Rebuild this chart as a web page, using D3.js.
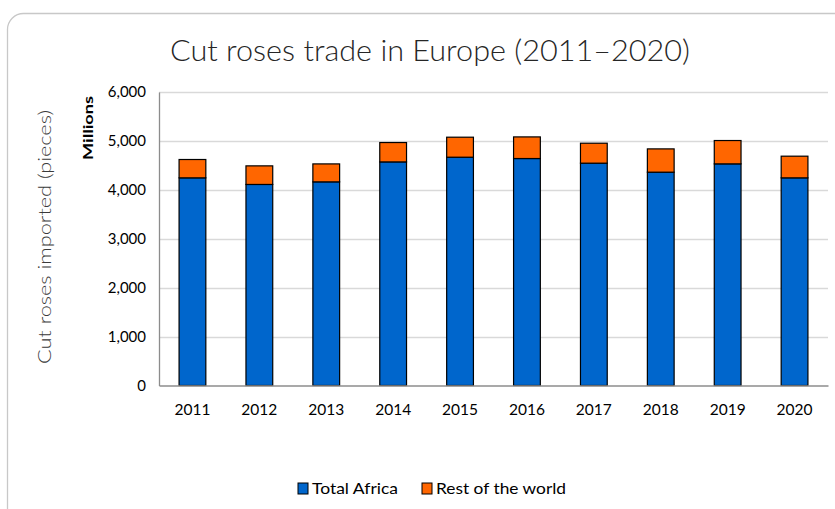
<!DOCTYPE html>
<html>
<head>
<meta charset="utf-8">
<script src="https://cdn.jsdelivr.net/npm/d3@7"></script>
<style>
  html, body { margin: 0; padding: 0; background: #fff; }
  svg text { font-family: Lato, "Open Sans", sans-serif; }
</style>
</head>
<body>
<svg id="chart" width="835" height="509"></svg>
<script>
const years = ["2011","2012","2013","2014","2015","2016","2017","2018","2019","2020"];
const totalAfrica = [4245, 4110, 4163, 4571, 4667, 4640, 4545, 4361, 4531, 4245];
const restOfWorld = [375, 380, 367, 396, 409, 442, 408, 476, 477, 443];
const seriesNames = ["Total Africa", "Rest of the world"];
const seriesColors = ["#0066CC", "#FF6600"];
const yTicks = [0, 1000, 2000, 3000, 4000, 5000, 6000];
const titleText = "Cut roses trade in Europe (2011–2020)";
const yTitle = "Cut roses imported (pieces)";
const unitLabel = "Millions";

const svg = d3.select("#chart");
const m = { left: 159, right: 828, top: 92, bottom: 385.5 };

// frame
svg.append("rect")
  .attr("x", 7.5).attr("y", 13.5)
  .attr("width", 860).attr("height", 520)
  .attr("rx", 16).attr("ry", 16)
  .attr("fill", "#fff").attr("stroke", "#c8c8c8").attr("stroke-width", 1.3);

// title
svg.append("text")
  .attr("x", 430).attr("y", 61)
  .attr("text-anchor", "middle")
  .attr("font-size", 29)
  .attr("font-weight", 300)
  .attr("fill", "#262626")
  .attr("textLength", 520).attr("lengthAdjust", "spacingAndGlyphs")
  .text(titleText);

const x = d3.scaleBand().domain(years).range([m.left, m.right]).paddingInner(0.6).paddingOuter(0.3);
const y = d3.scaleLinear().domain([0, 6000]).range([m.bottom, m.top]);

// gridlines
svg.append("g")
  .selectAll("line").data(yTicks.filter(d => d > 0)).join("line")
  .attr("x1", m.left).attr("x2", m.right)
  .attr("y1", d => Math.round(y(d)) + 0.5).attr("y2", d => Math.round(y(d)) + 0.5)
  .attr("stroke", "#d9d9d9").attr("stroke-width", 1.3);

// y axis
const yAxis = svg.append("g")
  .attr("transform", `translate(${m.left},0)`)
  .call(d3.axisLeft(y).tickValues(yTicks).tickSize(0).tickPadding(13).tickFormat(d3.format(",")));
yAxis.select(".domain").attr("stroke", "#8c8c8c").attr("stroke-width", 1.3);
yAxis.selectAll("text").attr("font-size", 15).attr("fill", "#000")
  .style("font-family", "Lato, sans-serif");

// stacked bars
const stackData = years.map((yr, i) => ({ year: yr, a: totalAfrica[i], r: restOfWorld[i] }));
const stacked = d3.stack().keys(["a", "r"])(stackData);

svg.append("g").selectAll("g").data(stacked).join("g")
  .attr("fill", (d, i) => seriesColors[i])
  .selectAll("rect").data(d => d).join("rect")
  .attr("x", d => x(d.data.year))
  .attr("width", x.bandwidth())
  .attr("y", d => y(d[1]))
  .attr("height", d => y(d[0]) - y(d[1]))
  .attr("stroke", "#000").attr("stroke-width", 1.2);

// x axis
const xAxis = svg.append("g")
  .attr("transform", `translate(0,${m.bottom})`)
  .call(d3.axisBottom(x).tickSize(0).tickPadding(18));
xAxis.select(".domain").attr("stroke", "#8c8c8c").attr("stroke-width", 1.3);
xAxis.selectAll("text").attr("font-size", 15.5).attr("fill", "#000")
  .style("font-family", "Lato, sans-serif");

// y title
svg.append("text")
  .attr("transform", "translate(51,237) rotate(-90)")
  .attr("text-anchor", "middle")
  .attr("font-size", 18)
  .attr("font-weight", 300)
  .attr("fill", "#3a3a3a")
  .attr("textLength", 254).attr("lengthAdjust", "spacingAndGlyphs")
  .text(yTitle);

// Millions
svg.append("text")
  .attr("transform", "translate(93,128) rotate(-90)")
  .attr("text-anchor", "middle")
  .attr("font-size", 14)
  .attr("font-weight", 700)
  .attr("fill", "#000")
  .attr("textLength", 64).attr("lengthAdjust", "spacingAndGlyphs")
  .text(unitLabel);

// legend
const legendItems = [
  { name: seriesNames[0], color: seriesColors[0], x: 298, tx: 312, len: 86 },
  { name: seriesNames[1], color: seriesColors[1], x: 422, tx: 436, len: 130 }
];
const lg = svg.append("g");
legendItems.forEach(it => {
  lg.append("rect").attr("x", it.x).attr("y", 483).attr("width", 10).attr("height", 11)
    .attr("fill", it.color).attr("stroke", "#000").attr("stroke-width", 1);
  lg.append("text").attr("x", it.tx).attr("y", 494).attr("font-size", 16).attr("fill", "#000")
    .attr("textLength", it.len).attr("lengthAdjust", "spacingAndGlyphs")
    .text(it.name);
});
</script>
</body>
</html>
